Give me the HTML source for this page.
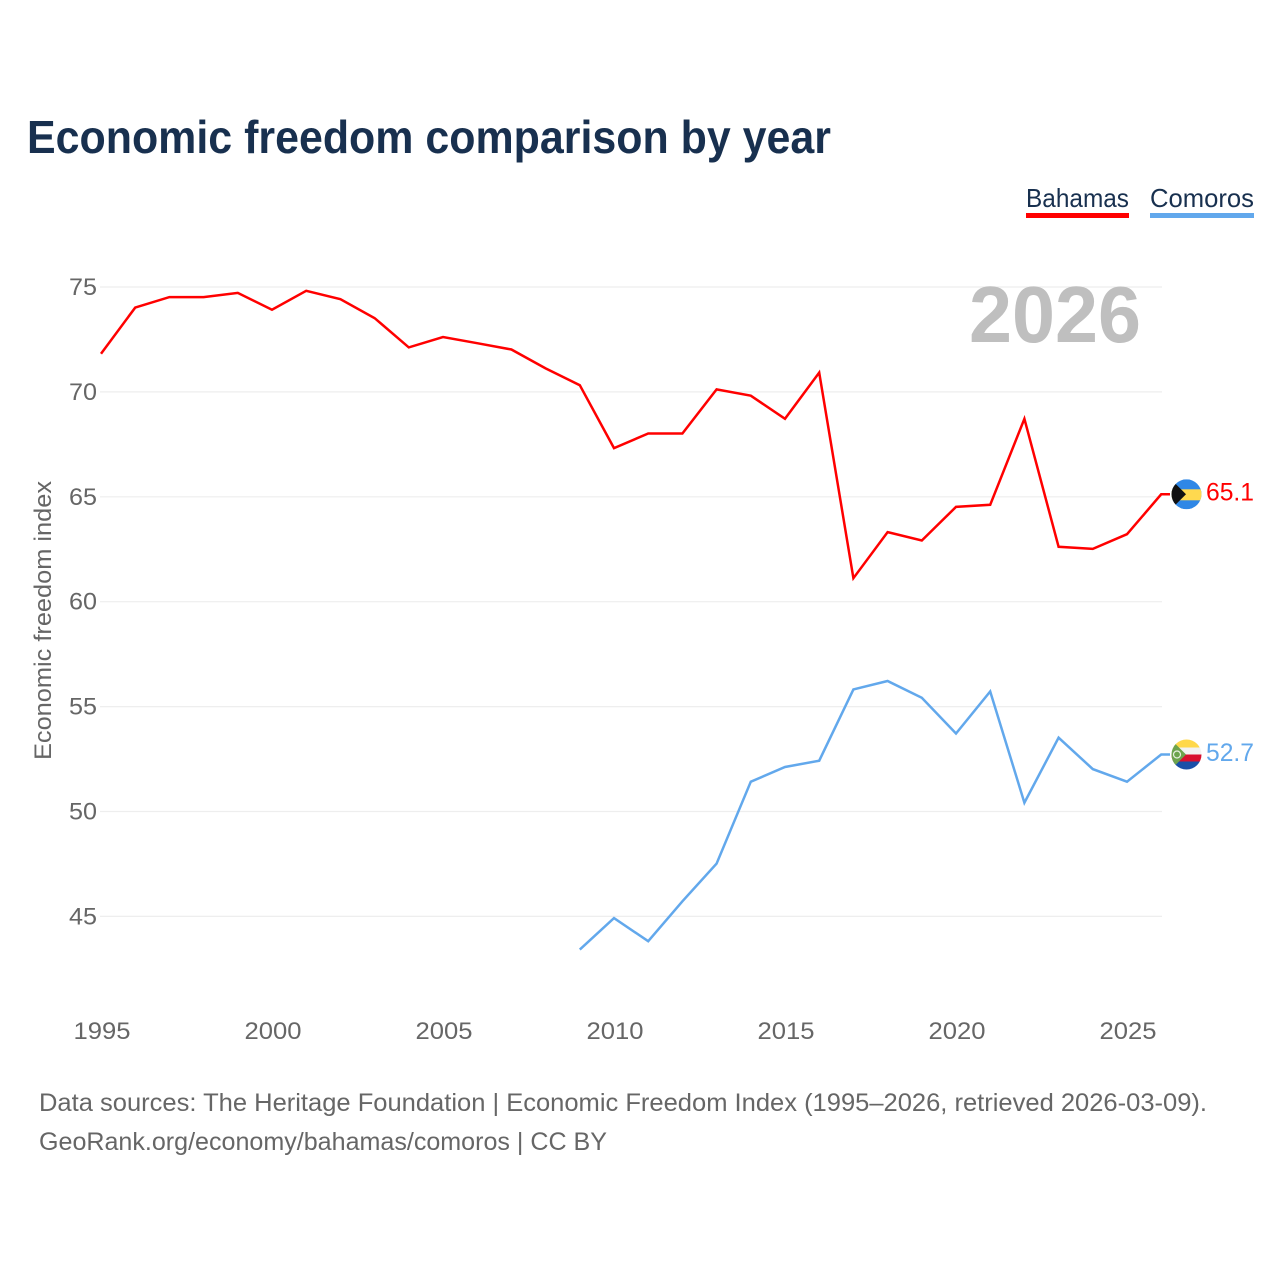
<!DOCTYPE html>
<html lang="en">
<head>
<meta charset="utf-8">
<title>Economic freedom comparison by year</title>
<style>
html,body{margin:0;padding:0;background:#fff;}
svg{display:block;font-family:"Liberation Sans",sans-serif;}
</style>
</head>
<body>
<svg id="chart" width="1280" height="1280" viewBox="0 0 1280 1280" xmlns="http://www.w3.org/2000/svg">
  <defs>
    <clipPath id="flag-clip-a"><circle cx="1186.5" cy="0" r="15"></circle></clipPath>
  </defs>
  <rect width="1280" height="1280" fill="#ffffff"></rect>
  <text x="27" y="153" font-size="46" font-weight="700" fill="#18304f" textLength="804" lengthAdjust="spacingAndGlyphs">Economic freedom comparison by year</text>
  <g>
    <text x="1026" y="207" font-size="26" fill="#18304f" textLength="103" lengthAdjust="spacingAndGlyphs">Bahamas</text>
    <rect x="1026" y="213" width="103" height="5" fill="#ff0000"></rect>
  </g>
  <g>
    <text x="1150" y="207" font-size="26" fill="#18304f" textLength="104" lengthAdjust="spacingAndGlyphs">Comoros</text>
    <rect x="1150" y="213" width="104" height="5" fill="#62a8ec"></rect>
  </g>
  <g id="grid"></g>
  <text x="969" y="342" font-size="80" font-weight="700" fill="#bfbfbf" textLength="172" lengthAdjust="spacingAndGlyphs">2026</text>
  <g id="yticks"></g>
  <g id="xticks"></g>
  <text transform="translate(51,760) rotate(-90)" font-size="24" fill="#666666" textLength="279" lengthAdjust="spacingAndGlyphs">Economic freedom index</text>
  <g id="series"></g>
  <g id="flag-bahamas">
    <rect x="1171" y="-15" width="31" height="30" fill="#2f87e6"></rect>
    <rect x="1171" y="-5" width="31" height="11" fill="#ffd94f"></rect>
    <polygon points="1171,-15 1186,0 1171,15" fill="#111111"></polygon>
  </g>
  <g id="flag-comoros">
    <rect x="1171" y="-16" width="31" height="9" fill="#ffd84a"></rect>
    <rect x="1171" y="-7" width="31" height="7" fill="#f2f2f2"></rect>
    <rect x="1171" y="0" width="31" height="7" fill="#d8102f"></rect>
    <rect x="1171" y="7" width="31" height="9" fill="#1a4fa8"></rect>
    <polygon points="1171,-15 1186,0 1171,15" fill="#6da34d"></polygon>
    <circle cx="1177" cy="0" r="3.5" fill="none" stroke="#e8efe0" stroke-width="1.2"></circle>
  </g>
  <text x="39" y="1111" font-size="25" fill="#666666" textLength="1168" lengthAdjust="spacingAndGlyphs">Data sources: The Heritage Foundation | Economic Freedom Index (1995–2026, retrieved 2026-03-09).</text>
  <text x="39" y="1150" font-size="25" fill="#666666" textLength="568" lengthAdjust="spacingAndGlyphs">GeoRank.org/economy/bahamas/comoros | CC BY</text>
</svg>
<script>
const years = [1995,1996,1997,1998,1999,2000,2001,2002,2003,2004,2005,2006,2007,2008,2009,2010,2011,2012,2013,2014,2015,2016,2017,2018,2019,2020,2021,2022,2023,2024,2025,2026];
const bahamasValues = [71.8,74.0,74.5,74.5,74.7,73.9,74.8,74.4,73.5,72.1,72.6,72.3,72.0,71.1,70.3,67.3,68.0,68.0,70.1,69.8,68.7,70.9,61.1,63.3,62.9,64.5,64.6,68.7,62.6,62.5,63.2,65.1];
const comorosValues = [null,null,null,null,null,null,null,null,null,null,null,null,null,null,43.4,44.9,43.8,45.7,47.5,51.4,52.1,52.4,55.8,56.2,55.4,53.7,55.7,50.4,53.5,52.0,51.4,52.7];
const yTickValues = [45,50,55,60,65,70,75];
const xTickYears = [1995,2000,2005,2010,2015,2020,2025];

const NS = 'http://www.w3.org/2000/svg';
const xScale = function (year) { return 101 + (year - 1995) * 34.2; };
const yScale = function (value) { return 286.6 + (75 - value) * 20.98; };
const lastValue = function (values) { return values[values.length - 1]; };

function make(tag, attrs, parent, content) {
  const el = document.createElementNS(NS, tag);
  Object.keys(attrs).forEach(function (k) { el.setAttribute(k, attrs[k]); });
  if (content !== undefined) { el.textContent = content; }
  parent.appendChild(el);
  return el;
}

const gridGroup = document.getElementById('grid');
const yGroup = document.getElementById('yticks');
const xGroup = document.getElementById('xticks');
const seriesGroup = document.getElementById('series');

yTickValues.forEach(function (v) {
  const line = make('line', {x1: 100, x2: 1162, y1: yScale(v) + 0.4, y2: yScale(v) + 0.4, stroke: '#eeeeee', 'stroke-width': 1.2}, gridGroup);
  
  
  const label = make('text', {x: 69, y: yScale(v) + 8.4, 'font-size': 24, fill: '#666666', textLength: 28, lengthAdjust: 'spacingAndGlyphs'}, yGroup, String(v));
  
  
});

xTickYears.forEach(function (y) {
  const label = make('text', {x: xScale(y) - 27.5, y: 1039, 'font-size': 24, fill: '#666666', textLength: 57, lengthAdjust: 'spacingAndGlyphs'}, xGroup, String(y));
  
  
});

function drawSeries(values, color, key) {
  const pts = [];
  values.forEach(function (v, i) {
    if (v !== null) { pts.push(xScale(years[i]).toFixed(1) + ',' + yScale(v).toFixed(1)); }
  });
  const endY = yScale(lastValue(values));
  pts.push('1170,' + endY.toFixed(1));
  const line = make('polyline', {points: pts.join(' '), fill: 'none', stroke: color, 'stroke-width': 2.5, 'stroke-linejoin': 'miter'}, seriesGroup);
  
  
  const valueLabel = make('text', {x: 1206, y: endY + 6.4, 'font-size': 25, fill: color, textLength: 48, lengthAdjust: 'spacingAndGlyphs'}, seriesGroup, lastValue(values).toFixed(1));
  
  
  const clip = document.querySelector('#flag-clip-a').cloneNode(true);
  clip.setAttribute('id', 'flag-clip-' + key);
  document.querySelector('#chart defs').appendChild(clip);
  const flag = document.getElementById('flag-' + key);
  flag.setAttribute('transform', 'translate(0,' + endY.toFixed(1) + ')');
  flag.setAttribute('clip-path', 'url(#flag-clip-' + key + ')');
}

drawSeries(bahamasValues, '#ff0000', 'bahamas');
drawSeries(comorosValues, '#62a8ec', 'comoros');
</script>
</body>
</html>
